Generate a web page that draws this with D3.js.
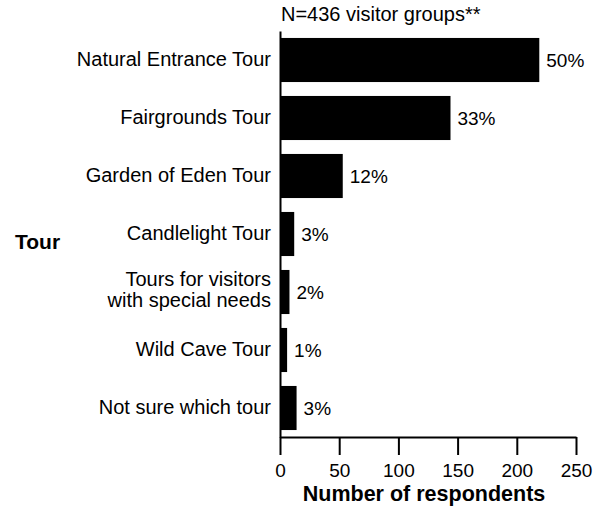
<!DOCTYPE html>
<html>
<head>
<meta charset="utf-8">
<script src="https://cdn.jsdelivr.net/npm/d3@7"></script>
<style>
  body { margin: 0; background: #fff; }
  text { font-family: "Liberation Sans", Arial, sans-serif; fill: #000; }
</style>
</head>
<body>
<div id="chart"></div>
<script>
// data
const tours = ["Natural Entrance Tour", "Fairgrounds Tour", "Garden of Eden Tour", "Candlelight Tour",
  "Tours for visitors\nwith special needs", "Wild Cave Tour", "Not sure which tour"]
const respondents = [219, 144, 53, 12, 8, 6, 14]
const percents = ["50%", "33%", "12%", "3%", "2%", "1%", "3%"]
const xTicks = [0, 50, 100, 150, 200, 250]

let width = 600, height = 516
let margin = {top: 31, right: 24, bottom: 79, left: 280}

let svg = d3.select("#chart").append("svg")
  .attr("width", width)
  .attr("height", height)

let data = tours.map((t, i) => ({tour: t, value: respondents[i], pct: percents[i]}))

let x = d3.scaleLinear()
  .domain([0, 250])
  .range([margin.left, width - margin.right])

let y = d3.scaleBand()
  .domain(tours)
  .range([margin.top, height - margin.bottom])
  .paddingInner(0.24)
  .paddingOuter(0.12)

// bars
svg.append("g")
  .selectAll("rect")
  .data(data)
  .join("rect")
  .attr("x", x(0))
  .attr("y", d => y(d.tour))
  .attr("width", d => x(d.value) - x(0))
  .attr("height", y.bandwidth())
  .attr("fill", "#000")

// percent labels
svg.append("g")
  .selectAll("text")
  .data(data)
  .join("text")
  .attr("x", d => x(d.value) + 7)
  .attr("y", d => y(d.tour) + y.bandwidth() / 2)
  .attr("dy", "0.35em")
  .style("font-size", "19px")
  .text(d => d.pct)

// x axis
let xAxis = svg.append("g")
  .attr("transform", `translate(0,${height - margin.bottom})`)
  .call(d3.axisBottom(x).tickValues(xTicks).tickSize(18).tickSizeOuter(0).tickPadding(9))
xAxis.selectAll("path, line").attr("stroke", "#000").attr("stroke-width", 2)
xAxis.selectAll("text").style("font-size", "19px").attr("fill", "#000")
  .style("font-family", "'Liberation Sans', Arial, sans-serif")

// y axis
let yAxis = svg.append("g")
  .attr("transform", `translate(${margin.left},0)`)
  .call(d3.axisLeft(y).tickSize(0).tickSizeOuter(0).tickPadding(9))
yAxis.select(".domain").attr("stroke", "#000").attr("stroke-width", 2)
yAxis.selectAll(".tick text")
  .style("font-size", "20px")
  .attr("fill", "#000")
  .style("font-family", "'Liberation Sans', Arial, sans-serif")
  .each(function(d) {
    let lines = d.split("\n")
    if (lines.length < 2) return
    let t = d3.select(this).text(null).attr("dy", null)
    lines.forEach((l, i) => {
      t.append("tspan").attr("x", -9)
        .attr("dy", i === 0 ? "-0.28em" : "1.02em")
        .text(l)
    })
  })

// titles
svg.append("text")
  .attr("x", margin.left + 1)
  .attr("y", 21)
  .style("font-size", "20px")
  .text("N=436 visitor groups**")

svg.append("text")
  .attr("x", 15)
  .attr("y", 249)
  .style("font-size", "21px")
  .style("font-weight", "bold")
  .text("Tour")

svg.append("text")
  .attr("x", (x(0) + x(250)) / 2 - 4)
  .attr("y", 501)
  .attr("text-anchor", "middle")
  .style("font-size", "21.5px")
  .style("font-weight", "bold")
  .text("Number of respondents")
</script>
</body>
</html>
